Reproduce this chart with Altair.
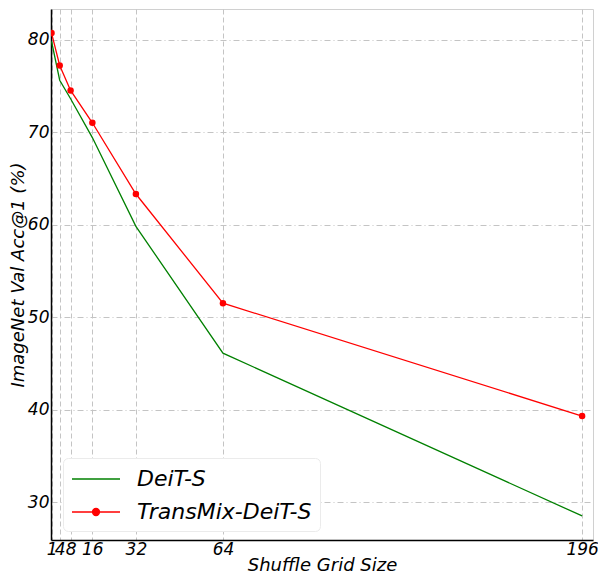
import altair as alt
import pandas as pd

grid_sizes = [1, 4, 8, 16, 32, 64, 196]
deit_s = [79.8, 75.6, 73.6, 69.4, 59.8, 46.1, 28.5]
transmix_deit_s = [80.7, 77.2, 74.5, 71.0, 63.3, 51.5, 39.3]
series_names = ["DeiT-S", "TransMix-DeiT-S"]
series_colors = ["green", "red"]
y_ticks = [30, 40, 50, 60, 70, 80]

rows = []
for name, vals in zip(series_names, [deit_s, transmix_deit_s]):
    for g, v in zip(grid_sizes, vals):
        rows.append({"grid": g, "acc": v, "model": name})
df = pd.DataFrame(rows)

FONT = "DejaVu Sans"
LINE_PATH = "M-2,0L2,0"
DOT_PATH = "M-2,0L2,0M0.29,0A0.29,0.29,0,1,1,-0.29,0A0.29,0.29,0,1,1,0.29,0Z"

xscale = alt.Scale(domain=[0.8, 200], nice=False, zero=False)
yscale = alt.Scale(domain=[25.9, 83.3], nice=False, zero=False)
cscale = alt.Scale(domain=series_names, range=series_colors)
sscale = alt.Scale(domain=series_names, range=[LINE_PATH, DOT_PATH])

common = dict(labelFontStyle="italic", titleFontStyle="italic", titleFontWeight="normal",
              labelFont=FONT, titleFont=FONT, labelColor="black", titleColor="black",
              domainColor="black", domainWidth=1.5, ticks=False, grid=True,
              gridColor="#c4c4c4", gridWidth=1, labelFontSize=17, titleFontSize=18)
xaxis = alt.Axis(values=grid_sizes, title="Shuffle Grid Size", labelOverlap=False,
                 labelFlush=False, gridDash=[5, 3], labelPadding=1, titlePadding=-1,
                 format="d", **common)
yaxis = alt.Axis(values=y_ticks, title="ImageNet Val Acc@1 (%)", gridDash=[6, 3, 1, 3],
                 labelPadding=2, titlePadding=0, **common)

legend = alt.Legend(
    orient="none", legendX=12, legendY=449, title=None,
    symbolSize=576, symbolOffset=12, symbolStrokeWidth=1.3, symbolOpacity=1,
    symbolFillColor="red",
    labelFontSize=22, labelFontStyle="italic", labelFont=FONT, labelColor="black",
    labelLimit=500, fillColor="white", strokeColor="#ebebeb", cornerRadius=5,
    padding=8, rowPadding=9, labelOffset=28,
)

base = alt.Chart(df)
lines = base.mark_line(strokeWidth=1.3, clip=True).encode(
    x=alt.X("grid:Q", scale=xscale, axis=xaxis),
    y=alt.Y("acc:Q", scale=yscale, axis=yaxis),
    color=alt.Color("model:N", scale=cscale, legend=legend),
    shape=alt.Shape("model:N", scale=sscale, legend=legend),
)
points = base.transform_filter(alt.datum.model == "TransMix-DeiT-S").mark_circle(
    size=42, opacity=1, clip=True, color="red"
).encode(
    x=alt.X("grid:Q", scale=xscale),
    y=alt.Y("acc:Q", scale=yscale),
)

chart = (lines + points).properties(
    width=542, height=531,
    autosize=alt.AutoSizeParams(type="none"),
    padding={"left": 43, "top": 1, "right": 5, "bottom": 34},
).configure_view(stroke="#d0d0d0", strokeWidth=1)

chart.save("out.html", embed_options={"renderer": "svg", "actions": False})
